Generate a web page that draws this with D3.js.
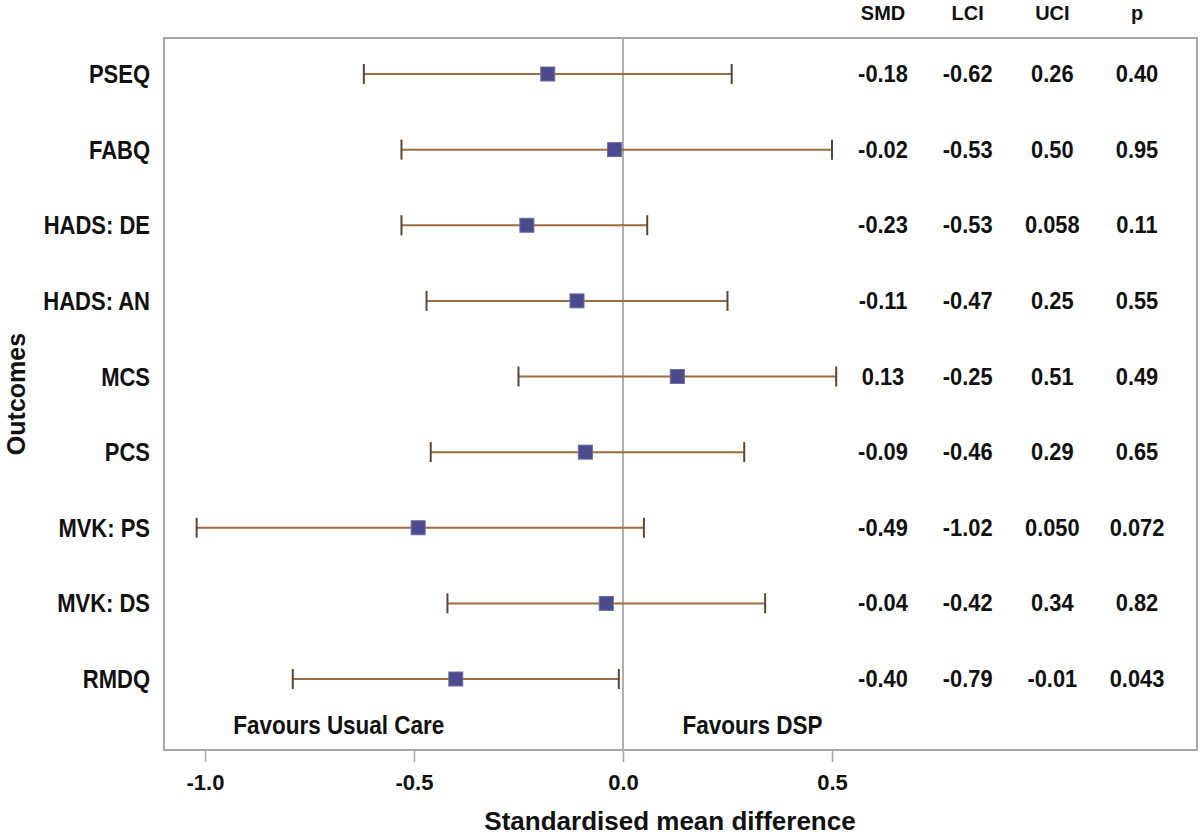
<!doctype html>
<html>
<head>
<meta charset="utf-8">
<script src="https://d3js.org/d3.v7.min.js"></script>
<style>
  body { margin: 0; background: #fff; }
  text { font-family: "Liberation Sans", Arial, sans-serif; font-weight: bold; fill: #111; }
</style>
</head>
<body>
<div id="chart"></div>
<script>
// chart values
var outcomes = ["PSEQ", "FABQ", "HADS: DE", "HADS: AN", "MCS", "PCS", "MVK: PS", "MVK: DS", "RMDQ"];
var smd = [-0.18, -0.02, -0.23, -0.11, 0.13, -0.09, -0.49, -0.04, -0.40];
var lci = [-0.62, -0.53, -0.53, -0.47, -0.25, -0.46, -1.02, -0.42, -0.79];
var uci = [0.26, 0.50, 0.058, 0.25, 0.51, 0.29, 0.050, 0.34, -0.01];
var pval = [0.40, 0.95, 0.11, 0.55, 0.49, 0.65, 0.072, 0.82, 0.043];
var smdLabels = ["-0.18", "-0.02", "-0.23", "-0.11", "0.13", "-0.09", "-0.49", "-0.04", "-0.40"];
var lciLabels = ["-0.62", "-0.53", "-0.53", "-0.47", "-0.25", "-0.46", "-1.02", "-0.42", "-0.79"];
var uciLabels = ["0.26", "0.50", "0.058", "0.25", "0.51", "0.29", "0.050", "0.34", "-0.01"];
var pLabels = ["0.40", "0.95", "0.11", "0.55", "0.49", "0.65", "0.072", "0.82", "0.043"];
var columns = ["SMD", "LCI", "UCI", "p"];
var xTicks = [-1.0, -0.5, 0.0, 0.5];

var W = 1200, H = 838;
var frame = {left: 164, right: 1197, top: 38, bottom: 750};

var svg = d3.select("#chart").append("svg")
    .attr("width", W)
    .attr("height", H);

var x = d3.scaleLinear().domain([-1, 0.5]).range([205, 832]);
var y = d3.scalePoint().domain(outcomes).range([74, 679]);
var col = d3.scalePoint().domain(columns).range([883, 1137]);

// text squeezed a bit sideways, the original font is narrow
function label(px, py, txt, size, anchor, sx) {
    return svg.append("text")
        .attr("transform", "translate(" + px + "," + py + ") scale(" + sx + ",1)")
        .attr("text-anchor", anchor)
        .style("font-size", size + "px")
        .text(txt);
}

// frame
svg.append("rect")
    .attr("x", frame.left).attr("y", frame.top)
    .attr("width", frame.right - frame.left)
    .attr("height", frame.bottom - frame.top)
    .attr("fill", "none")
    .attr("stroke", "#a6a6a6")
    .attr("stroke-width", 2);

// zero line
svg.append("line")
    .attr("x1", x(0)).attr("x2", x(0))
    .attr("y1", frame.top).attr("y2", frame.bottom)
    .attr("stroke", "#b0b0b0")
    .attr("stroke-width", 2);

// x axis
var xAxis = d3.axisBottom(x)
    .tickValues(xTicks)
    .tickFormat(function (d) { return d.toFixed(1); })
    .tickSize(11)
    .tickPadding(12);
var gx = svg.append("g")
    .attr("transform", "translate(0," + (frame.bottom + 1) + ")")
    .call(xAxis);
gx.select(".domain").remove();
gx.selectAll(".tick line").attr("stroke", "#a6a6a6").attr("stroke-width", 1.5);
gx.selectAll(".tick text")
    .style("font-size", "22px")
    .style("font-family", "Liberation Sans, Arial, sans-serif")
    .style("font-weight", "bold")
    .attr("fill", "#111");

// y labels
outcomes.forEach(function (o) {
    label(150, y(o) + 9, o, 25, "end", 0.88);
});

// error bars
var rows = outcomes.map(function (o, i) {
    return {name: o, smd: smd[i], lci: lci[i], uci: uci[i]};
});
var bars = svg.selectAll(".bar")
    .data(rows)
    .enter().append("g")
    .attr("class", "bar");
bars.append("line")
    .attr("x1", function (d) { return x(d.lci); })
    .attr("x2", function (d) { return x(d.uci); })
    .attr("y1", function (d) { return y(d.name); })
    .attr("y2", function (d) { return y(d.name); })
    .attr("stroke", "#9c6c42")
    .attr("stroke-width", 2);
bars.append("line")
    .attr("x1", function (d) { return x(d.lci); })
    .attr("x2", function (d) { return x(d.lci); })
    .attr("y1", function (d) { return y(d.name) - 10; })
    .attr("y2", function (d) { return y(d.name) + 10; })
    .attr("stroke", "#5e4434")
    .attr("stroke-width", 2);
bars.append("line")
    .attr("x1", function (d) { return x(d.uci); })
    .attr("x2", function (d) { return x(d.uci); })
    .attr("y1", function (d) { return y(d.name) - 10; })
    .attr("y2", function (d) { return y(d.name) + 10; })
    .attr("stroke", "#5e4434")
    .attr("stroke-width", 2);
bars.append("rect")
    .attr("x", function (d) { return x(d.smd) - 7; })
    .attr("y", function (d) { return y(d.name) - 7; })
    .attr("width", 14)
    .attr("height", 14)
    .attr("fill", "#4a4a8c")
    .attr("stroke", "#6d6d9e")
    .attr("stroke-width", 1);

// table headers
columns.forEach(function (c) {
    label(col(c), 20, c, 21, "middle", 0.95);
});

// table values
var tableCols = [smdLabels, lciLabels, uciLabels, pLabels];
tableCols.forEach(function (labels, c) {
    labels.forEach(function (v, i) {
        label(col(columns[c]), y(outcomes[i]) + 8, v, 23, "middle", 0.95);
    });
});

// favours labels
label(x(-0.68), 734, "Favours Usual Care", 25, "middle", 0.9);
label(x(0.31), 734, "Favours DSP", 25, "middle", 0.9);

// axis titles
label(670, 830, "Standardised mean difference", 26, "middle", 1.0);
svg.append("text")
    .attr("transform", "translate(25," + ((frame.top + frame.bottom) / 2) + ") rotate(-90)")
    .attr("text-anchor", "middle")
    .style("font-size", "25px")
    .text("Outcomes");
</script>
</body>
</html>
